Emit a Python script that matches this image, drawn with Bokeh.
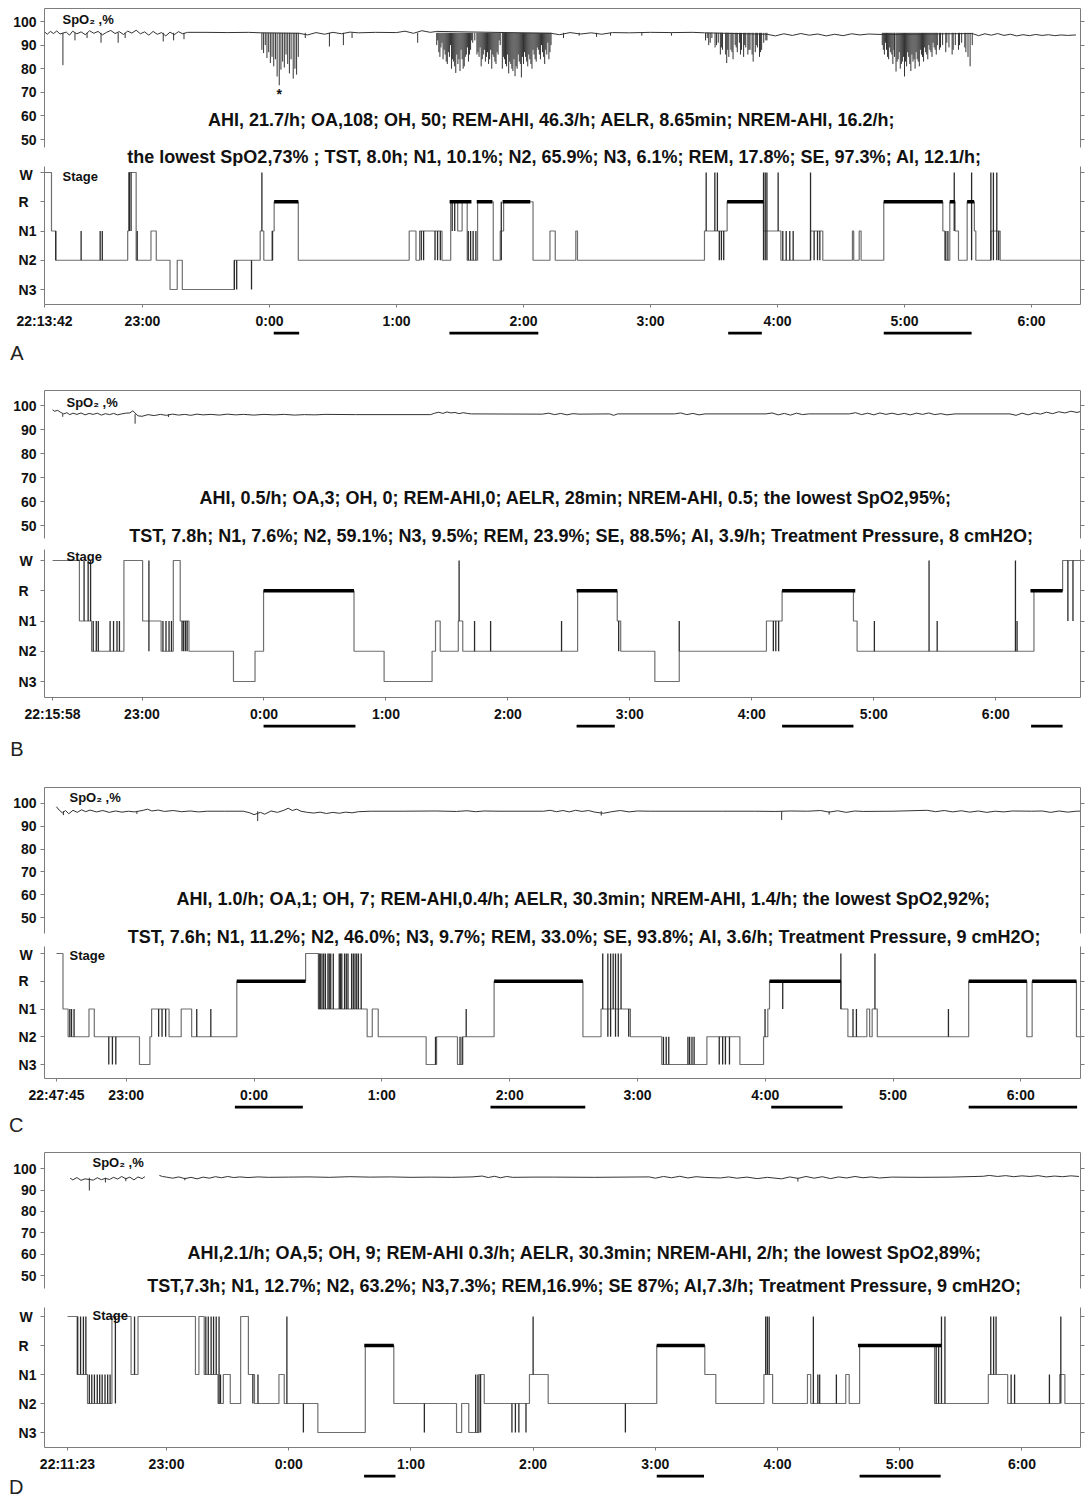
import math
from bokeh.plotting import figure
from bokeh.layouts import column
from bokeh.models import Range1d, LinearAxis, FixedTicker, Label
from bokeh.embed import file_html
from bokeh.resources import INLINE

# ---------------------------------------------------------------- axes / categories
LEVEL = {"N3": 0, "N2": 1, "N1": 2, "R": 3, "W": 4}
STAGE_TICKS = [0, 1, 2, 3, 4]
STAGE_TICK_LABELS = {0: "N3", 1: "N2", 2: "N1", 3: "R\u00a0\u00a0", 4: "W\u00a0"}
SPO2_TICKS = [50, 60, 70, 80, 90, 100]
HOUR_TICKS = [-1, 0, 1, 2, 3, 4, 5, 6]
HOUR_LABELS = ["23:00", "0:00", "1:00", "2:00", "3:00", "4:00", "5:00", "6:00"]

# ---------------------------------------------------------------- panel A
A_LINE1 = "AHI, 21.7/h; OA,108; OH, 50; REM-AHI, 46.3/h; AELR, 8.65min; NREM-AHI, 16.2/h;"
A_LINE2 = "the lowest SpO2,73% ; TST, 8.0h; N1, 10.1%; N2, 65.9%; N3, 6.1%; REM, 17.8%; SE, 97.3%; AI, 12.1/h;"
A_START_LABEL = "22:13:42"
A_SPO2 = [("22:13.7", 95.6), ("22:15", 94.6), ("22:16.5", 95.8), ("22:18", 94.9), ("22:19.5", 96.0),
          ("22:21", 94.7), ("22:24", 95.5), ("22:25.5", 94.2), ("22:27", 95.9), ("22:29", 94.8),
          ("22:31", 95.6), ("22:33", 94.4), ("22:35", 96.1), ("22:37", 95.0), ("22:39", 95.8),
          ("22:41", 94.3), ("22:43", 95.4), ("22:45", 96.2), ("22:47", 94.9), ("22:49", 95.7),
          ("22:51", 94.5), ("22:53", 95.9), ("22:55", 95.1), ("22:57", 96.3), ("22:59", 94.8),
          ("23:01", 95.6), ("23:03", 94.2), ("23:05", 95.8), ("23:07", 94.6), ("23:09", 95.3),
          ("23:11", 93.9), ("23:13", 95.5), ("23:15", 94.4), ("23:17", 95.7), ("23:19", 94.8),
          ("23:21.3", 95.4), ("23:30", 95.4), ("23:40", 95.3), ("23:50", 95.4), ("23:56", 95.2),
          ("0:14", 95.0), ("0:18", 94.3), ("0:22", 95.3), ("0:26", 94.6), ("0:30", 95.4),
          ("0:34", 94.8), ("0:38", 95.5), ("0:42", 95.2), ("0:50", 95.4), ("1:00", 95.3),
          ("1:04", 95.9), ("1:08", 95.0), ("1:12", 96.1), ("1:16", 95.4), ("1:19", 95.8),
          ("2:13", 95.0), ("2:17", 94.4), ("2:22", 95.3), ("2:27", 94.7), ("2:32", 95.2),
          ("2:37", 94.6), ("2:42", 95.3), ("2:50", 95.2), ("3:00", 95.4), ("3:10", 95.3),
          ("3:20", 95.4), ("3:25.5", 95.2), ("3:55", 94.6), ("3:59", 93.9), ("4:03", 94.8),
          ("4:07", 94.1), ("4:11", 94.9), ("4:15", 94.2), ("4:19", 94.7), ("4:23", 93.9),
          ("4:27", 94.6), ("4:31", 94.0), ("4:35", 94.8), ("4:39", 94.3), ("4:43", 94.7),
          ("4:49", 94.5), ("5:32", 94.9), ("5:35", 94.0), ("5:38", 94.8), ("5:41", 94.2),
          ("5:44", 94.9), ("5:47", 94.1), ("5:50", 94.6), ("5:53", 93.9), ("5:56", 94.4),
          ("5:59", 94.0), ("6:02", 94.5), ("6:05", 94.1), ("6:08", 94.4), ("6:11", 94.0),
          ("6:14", 94.3), ("6:17", 94.1), ("6:21", 94.3)]
A_DIP_TOP = 95.2
A_DIPS = [("22:22.4", 81.5), ("22:28.1", 92.0), ("22:33.8", 93.0), ("22:40.4", 91.0), ("22:48.5", 91.0),
          ("22:51.8", 93.0), ("23:09.8", 91.5), ("23:14.7", 92.0), ("23:19.6", 92.5),
          ("23:56.4", 88), ("23:57.2", 86.6), ("23:58", 90), ("23:58.8", 84.5), ("23:59.6", 87),
          ("0:00.4", 82.4), ("0:01.2", 85), ("0:02", 81), ("0:02.8", 84), ("0:03.6", 76.7),
          ("0:04.6", 73), ("0:05.4", 79.6), ("0:06.2", 83), ("0:07", 80.5), ("0:07.8", 86),
          ("0:08.6", 82), ("0:09.4", 78), ("0:10.2", 84), ("0:11.2", 75.8), ("0:12", 80),
          ("0:12.8", 77.5), ("0:13.6", 85),
          ("0:16.9", 93), ("0:28.3", 89.4), ("0:34.9", 90), ("0:39", 93), ("1:10", 91),
          ("1:19", 90), ("1:20", 87), ("1:21", 89), ("1:22", 84), ("1:23", 86), ("1:24", 82),
          ("1:25", 85), ("1:26", 80), ("1:27", 83), ("1:28", 78.2), ("1:29", 82), ("1:30", 79),
          ("1:31", 84), ("1:32", 81), ("1:33", 86), ("1:34", 83), ("1:35", 88), ("1:36", 91),
          ("1:37", 92), ("1:38", 86), ("1:39", 85), ("1:40", 81), ("1:41", 86), ("1:42", 83),
          ("1:43", 87), ("1:44", 84), ("1:45", 80), ("1:46", 85), ("1:47", 82), ("1:48", 86),
          ("1:49", 90), ("1:50", 80), ("1:51", 84), ("1:52", 81), ("1:53", 78), ("1:54", 82),
          ("1:55", 79), ("1:56", 76.8), ("1:57", 80), ("1:58", 83), ("1:59", 76.3), ("2:00", 82),
          ("2:01", 85), ("2:02", 81), ("2:03", 84), ("2:04", 80), ("2:05", 86), ("2:06", 83),
          ("2:07", 88), ("2:08", 84), ("2:09", 87), ("2:10", 82), ("2:11", 86), ("2:12", 84),
          ("2:13", 90),
          ("1:19.5", 92), ("1:20.5", 85), ("1:21.5", 91), ("1:22.5", 88), ("1:23.5", 83), ("1:24.5", 87),
          ("1:25.5", 90), ("1:26.5", 84), ("1:27.5", 81), ("1:28.5", 86), ("1:29.5", 84), ("1:30.5", 88),
          ("1:31.5", 80), ("1:32.5", 85), ("1:33.5", 89), ("1:34.5", 86), ("1:35.5", 92),
          ("1:38.5", 87), ("1:39.5", 89), ("1:40.5", 84), ("1:41.5", 88), ("1:42.5", 85),
          ("1:43.5", 82), ("1:44.5", 88), ("1:45.5", 86), ("1:46.5", 83), ("1:47.5", 87), ("1:48.5", 92),
          ("1:50.5", 85), ("1:51.5", 82), ("1:52.5", 86), ("1:53.5", 83), ("1:54.5", 80),
          ("1:55.5", 84), ("1:56.5", 81), ("1:57.5", 86), ("1:58.5", 82), ("1:59.5", 85), ("2:00.5", 87),
          ("2:01.5", 83), ("2:02.5", 86), ("2:03.5", 82), ("2:04.5", 88), ("2:05.5", 84), ("2:06.5", 89),
          ("2:07.5", 86), ("2:08.5", 90), ("2:09.5", 85), ("2:10.5", 88), ("2:11.5", 91), ("2:12.5", 87),
          ("2:18.9", 93), ("2:26.3", 94), ("2:34.5", 93.5), ("2:41.1", 94), ("2:55.9", 94), ("3:09.9", 94),
          ("3:26", 92), ("3:27.5", 90), ("3:29", 93), ("3:30.5", 89), ("3:32", 91), ("3:33", 86),
          ("3:34", 88), ("3:36", 82.4), ("3:37", 85), ("3:38", 88), ("3:39", 84), ("3:40", 90),
          ("3:41", 87), ("3:42", 91), ("3:43", 88), ("3:44", 85), ("3:45", 89), ("3:46", 86),
          ("3:47", 88), ("3:48.5", 83), ("3:49.5", 87), ("3:50.5", 89), ("3:51.5", 85),
          ("3:52.5", 88), ("3:53.5", 91), ("3:55", 92),
          ("3:26.8", 93), ("3:28.2", 91), ("3:31.2", 90), ("3:33.5", 89), ("3:35.5", 86), ("3:36.5", 88),
          ("3:38.5", 87), ("3:40.5", 89), ("3:42.5", 86), ("3:44.5", 90), ("3:46.5", 88), ("3:48", 86),
          ("3:50", 90), ("3:52", 87), ("3:54.5", 92),
          ("4:49.5", 90), ("4:50.5", 86), ("4:51.5", 88), ("4:52.5", 84), ("4:53.5", 87),
          ("4:54.5", 82), ("4:55.3", 85), ("4:56", 78.8), ("4:57", 84), ("4:58", 80),
          ("4:59", 83), ("5:00", 76.7), ("5:01", 81), ("5:02", 85), ("5:03", 79), ("5:04", 83),
          ("5:05", 80), ("5:06", 84), ("5:07", 81), ("5:08", 86), ("5:09", 83), ("5:10", 87),
          ("5:11", 84), ("5:12", 88), ("5:13", 85), ("5:14", 89), ("5:15", 86), ("5:16.5", 88),
          ("5:18", 90), ("5:19.5", 87), ("5:21", 89), ("5:22.5", 86), ("5:24", 90), ("5:25.5", 88),
          ("5:27", 91), ("5:28.5", 89), ("5:30", 85), ("5:31", 81), ("5:32", 90),
          ("4:50", 88), ("4:51", 91), ("4:52", 85), ("4:53", 89), ("4:54", 86), ("4:55", 88),
          ("4:56.5", 83), ("4:57.5", 87), ("4:58.5", 82), ("4:59.5", 85), ("5:00.5", 83), ("5:01.5", 87),
          ("5:02.5", 82), ("5:03.5", 86), ("5:04.5", 84), ("5:05.5", 87), ("5:06.5", 83), ("5:07.5", 88),
          ("5:08.5", 85), ("5:09.5", 89), ("5:10.5", 86), ("5:11.5", 90), ("5:12.5", 87), ("5:13.5", 91),
          ("5:14.5", 88), ("5:15.5", 90), ("5:17", 89), ("5:20", 91), ("5:23", 88), ("5:26", 90),
          ("5:29", 87)]
A_LOWEST = ("0:04.6", 73)
A_HYPNOGRAM = [("22:13.7", "W"), ("22:17", "N1"), ("22:19", "N2"), ("22:53", "N1"), ("22:53.5", "W"),
               ("22:57", "N2"), ("23:04", "N1"), ("23:06.5", "N2"), ("23:13", "N3"), ("23:16.4", "N2"),
               ("23:18.8", "N3"), ("23:43.4", "N2"), ("23:55.6", "N1"), ("23:57.3", "N2"), ("0:01.5", "N1"),
               ("0:02.2", "R"), ("0:13.6", "N2"), ("1:06", "N1"), ("1:09.2", "N2"), ("1:10.9", "N1"),
               ("1:21.5", "N2"), ("1:25.6", "R"), ("1:28.9", "N1"), ("1:31", "R"), ("1:33.4", "N2"),
               ("1:38.3", "R"), ("1:45.7", "N2"), ("1:49", "N1"), ("1:50.6", "R"), ("2:04.5", "N2"),
               ("2:12.5", "N1"), ("2:15", "N2"), ("2:24.7", "N1"), ("2:25.5", "N2"), ("3:25.5", "N1"),
               ("3:36.2", "R"), ("3:53.4", "N1"), ("4:01.6", "N2"), ("4:15.6", "N1"), ("4:21.4", "N2"),
               ("4:35.4", "N1"), ("4:36", "N2"), ("4:38.6", "N1"), ("4:39.5", "N2"), ("4:50.2", "R"),
               ("5:18.1", "N1"), ("5:19", "N2"), ("5:21.4", "R"), ("5:23.9", "N1"), ("5:25.5", "N2"),
               ("5:29.6", "R"), ("5:33", "N1"), ("5:33.7", "N2"), ("5:40.8", "N1"), ("5:45.2", "N2"),
               ("6:25", "N2")]
A_SPIKES = [("22:19", "N2", "N1"), ("22:31", "N2", "N1"), ("22:40", "N2", "N1"), ("22:41", "N2", "N1"),
            ("22:53.8", "N1", "W"), ("22:54.6", "N1", "W"), ("22:57.5", "N2", "N1"),
            ("23:43.4", "N3", "N2"), ("23:44.5", "N3", "N2"), ("23:51.5", "N3", "N2"),
            ("23:56.4", "N1", "W"), ("0:01.3", "N2", "N1"),
            ("1:11.7", "N2", "N1"), ("1:12.8", "N2", "N1"), ("1:18.2", "N2", "N1"), ("1:19.4", "N2", "N1"),
            ("1:20.7", "N2", "N1"), ("1:26.3", "N1", "R"), ("1:27.5", "N1", "R"), ("1:33.9", "N2", "N1"),
            ("1:35", "N2", "N1"), ("1:36.2", "N2", "N1"), ("1:37.5", "N2", "N1"), ("1:49.5", "N2", "R"),
            ("3:26.3", "N1", "W"), ("3:30.4", "N1", "W"), ("3:31.6", "N1", "W"), ("3:32.5", "N2", "N1"),
            ("3:33.5", "N2", "N1"), ("3:34.6", "N2", "N1"), ("3:53.4", "N2", "W"), ("3:54.2", "N2", "W"),
            ("3:55", "N2", "W"), ("4:00.3", "N1", "W"), ("4:02.5", "N2", "N1"), ("4:04.1", "N2", "N1"),
            ("4:05.8", "N2", "N1"), ("4:07.4", "N2", "N1"), ("4:15.6", "N2", "W"), ("4:17.3", "N2", "N1"),
            ("4:18.9", "N2", "N1"), ("4:20", "N2", "N1"), ("5:19.5", "N2", "N1"), ("5:20.5", "N2", "N1"),
            ("5:23.5", "N1", "W"), ("5:31.7", "N2", "W"), ("5:40.8", "N2", "W"), ("5:42", "N2", "W"),
            ("5:43.6", "N2", "W"), ("5:44.5", "N2", "N1")]
A_REM = [("0:02.2", "0:13.6"), ("1:25.1", "1:35.4"), ("1:37.9", "1:45.3"), ("1:50.1", "2:03.2"),
         ("3:36.2", "3:53.4"), ("4:50.2", "5:18.1"), ("5:21.4", "5:23.9"), ("5:29.6", "5:32.9")]
A_UNDERBARS = [("0:02", "0:14"), ("1:25", "2:07"), ("3:36.7", "3:52.6"), ("4:50.2", "5:31.7")]

# ---------------------------------------------------------------- panel B
B_LINE1 = "AHI, 0.5/h; OA,3; OH, 0; REM-AHI,0; AELR, 28min; NREM-AHI, 0.5; the lowest SpO2,95%;"
B_LINE2 = "TST, 7.8h; N1, 7.6%; N2, 59.1%; N3, 9.5%; REM, 23.9%; SE, 88.5%; AI, 3.9/h; Treatment Pressure, 8 cmH2O;"
B_START_LABEL = "22:15:58"
B_SPO2 = [("22:16", 98.2), ("22:17", 97.6), ("22:18.5", 98.0), ("22:20", 97.1), ("22:21.5", 96.5),
          ("22:23", 97.0), ("22:24.5", 96.2), ("22:26", 96.8), ("22:28", 96.3), ("22:30", 96.9),
          ("22:32", 96.1), ("22:34", 96.7), ("22:36", 96.3), ("22:38", 96.8), ("22:40", 96.0),
          ("22:42", 96.6), ("22:44", 96.2), ("22:46", 96.7), ("22:48", 96.1), ("22:50", 96.5),
          ("22:52", 96.8), ("22:54", 96.9), ("22:55.5", 97.8), ("22:58", 95.7), ("23:00", 95.5),
          ("23:03", 96.2), ("23:06", 95.8), ("23:09", 96.3), ("23:12", 95.9), ("23:15", 96.4),
          ("23:18", 96.0), ("23:21", 96.3), ("23:24", 95.9), ("23:27", 96.4), ("23:30", 96.1),
          ("23:34", 96.3), ("23:38", 96.0), ("23:42", 96.4), ("23:46", 96.1), ("23:50", 96.3),
          ("23:55", 96.0), ("0:00", 96.3), ("0:05", 96.1), ("0:10", 96.3), ("0:15", 96.0),
          ("0:20", 96.2), ("0:25", 96.1), ("0:30", 96.3), ("0:45", 96.2), ("1:22", 96.2),
          ("1:24", 96.8), ("1:26", 97.2), ("1:28", 96.7), ("1:30", 97.3), ("1:32", 96.9),
          ("1:34", 97.1), ("1:36", 96.6), ("1:38", 97.0), ("1:40", 96.7), ("1:42", 96.5),
          ("2:17", 96.4), ("2:20", 96.8), ("2:23", 96.2), ("2:26", 96.7), ("2:29", 96.1),
          ("2:32", 96.6), ("2:35", 96.4), ("2:50", 96.5), ("2:52", 95.9), ("2:54", 96.5),
          ("3:22", 96.5), ("3:25", 96.9), ("3:28", 96.2), ("3:31", 96.7), ("3:34", 96.1),
          ("3:37", 96.5), ("4:07", 96.5), ("4:10", 96.9), ("4:13", 96.1), ("4:16", 96.7),
          ("4:19", 96.0), ("4:22", 96.8), ("4:25", 96.2), ("4:28", 96.5), ("4:48", 96.5),
          ("4:51", 97.0), ("4:54", 96.2), ("4:57", 96.8), ("5:00", 96.1), ("5:03", 96.9),
          ("5:06", 96.3), ("5:09", 96.8), ("5:12", 96.2), ("5:15", 96.7), ("5:18", 96.1),
          ("5:21", 96.8), ("5:24", 96.3), ("5:27", 96.9), ("5:30", 96.2), ("5:33", 96.6),
          ("5:36", 96.1), ("5:40", 96.5), ("6:07", 96.5), ("6:10", 95.9), ("6:13", 96.8),
          ("6:16", 96.1), ("6:19", 96.9), ("6:22", 96.4), ("6:25", 97.2), ("6:28", 96.6),
          ("6:31", 97.4), ("6:34", 96.9), ("6:37", 97.6), ("6:40", 97.1), ("6:43", 97.8)]
B_DIP_TOP = 96.4
B_DIPS = [("22:56.6", 92.4), ("22:21", 95.3), ("23:13", 95.2)]
B_HYPNOGRAM = [("22:16", "W"), ("22:29.2", "N1"), ("22:35.2", "N2"), ("22:51.1", "W"), ("23:00.3", "N1"),
               ("23:09.4", "N2"), ("23:15.4", "W"), ("23:18.8", "N1"), ("23:23.1", "N2"), ("23:45", "N3"),
               ("23:55.6", "N2"), ("23:59.8", "R"), ("0:44.3", "N2"), ("0:59.1", "N3"), ("1:22.7", "N2"),
               ("1:24.4", "N1"), ("1:26.7", "N2"), ("1:35.6", "N1"), ("1:37.8", "N2"), ("2:34.3", "R"),
               ("2:53.8", "N1"), ("2:55.5", "N2"), ("3:12.3", "N3"), ("3:24.3", "N2"), ("4:07.2", "N1"),
               ("4:14.9", "R"), ("4:50", "N1"), ("4:51.8", "N2"), ("6:18.8", "R"), ("6:32.9", "W"),
               ("6:47", "W")]
B_SPIKES = [("22:31.5", "N1", "W"), ("22:33.5", "N1", "W"), ("22:34.7", "N1", "W"), ("22:36", "N2", "N1"),
            ("22:37.5", "N2", "N1"), ("22:38.5", "N2", "N1"), ("22:44.3", "N2", "N1"), ("22:46", "N2", "N1"),
            ("22:47.7", "N2", "N1"), ("22:48.9", "N2", "N1"), ("23:03.4", "N2", "W"), ("23:10.3", "N2", "N1"),
            ("23:11.8", "N2", "N1"), ("23:13.3", "N2", "N1"), ("23:14.5", "N2", "N1"), ("23:19.7", "N2", "N1"),
            ("23:20.5", "N2", "N1"), ("23:21.4", "N2", "N1"), ("23:22.2", "N2", "N1"), ("1:36", "N1", "W"),
            ("1:43.6", "N2", "N1"), ("1:51.5", "N2", "N1"), ("2:26.4", "N2", "N1"), ("2:54.5", "N2", "N1"),
            ("3:24.3", "N2", "N1"), ("4:10.6", "N2", "N1"), ("4:11.8", "N2", "N1"), ("4:13.2", "N2", "N1"),
            ("5:00.3", "N2", "N1"), ("5:27.2", "N2", "W"), ("5:31.2", "N2", "N1"), ("6:09.7", "N2", "W"),
            ("6:10.5", "N2", "N1"), ("6:35.5", "N1", "W"), ("6:38", "N1", "W")]
B_REM = [("23:59.8", "0:44.3"), ("2:33.8", "2:53.8"), ("4:14.9", "4:50.9"), ("6:17.1", "6:32.9")]
B_UNDERBARS = [("23:59.8", "0:45"), ("2:33.8", "2:52.6"), ("4:14.9", "4:50"), ("6:17.4", "6:32.9")]

# ---------------------------------------------------------------- panel C
C_LINE1 = "AHI, 1.0/h; OA,1; OH, 7; REM-AHI,0.4/h; AELR, 30.3min; NREM-AHI, 1.4/h; the lowest SpO2,92%;"
C_LINE2 = "TST, 7.6h; N1, 11.2%; N2, 46.0%; N3, 9.7%; REM, 33.0%; SE, 93.8%; AI, 3.6/h; Treatment Pressure, 9 cmH2O;"
C_START_LABEL = "22:47:45"
C_SPO2 = [("22:27.2", 98.5), ("22:28.5", 97.0), ("22:30", 95.8), ("22:31.5", 96.8), ("22:33", 95.4),
          ("22:35", 96.9), ("22:37", 96.0), ("22:39", 97.1), ("22:41", 96.3), ("22:43", 97.0),
          ("22:46", 96.2), ("22:49", 96.8), ("22:52", 96.0), ("22:55", 96.6), ("22:58", 96.1),
          ("23:01", 96.5), ("23:04", 96.2), ("23:08", 96.9), ("23:10", 97.4), ("23:12", 96.6),
          ("23:15", 97.0), ("23:18", 96.4), ("23:22", 96.8), ("23:26", 96.3), ("23:30", 96.6),
          ("23:34", 96.2), ("23:38", 96.5), ("23:46", 96.5), ("23:55", 96.5), ("23:58", 95.8),
          ("0:00", 95.0), ("0:03", 96.0), ("0:05", 95.2), ("0:08", 96.6), ("0:11", 96.0),
          ("0:14", 96.9), ("0:16", 97.8), ("0:18", 96.8), ("0:20", 97.4), ("0:22", 96.5),
          ("0:25", 96.0), ("0:28", 95.7), ("0:31", 96.1), ("0:34", 95.5), ("0:37", 96.0),
          ("0:40", 95.6), ("0:43", 96.1), ("0:46", 95.8), ("0:49", 96.3), ("0:55", 96.5),
          ("1:10", 96.5), ("1:25", 96.6), ("1:35", 96.4), ("1:40", 96.7), ("1:44", 96.3),
          ("1:48", 96.6), ("1:55", 96.5), ("2:16", 96.5), ("2:19", 96.9), ("2:22", 96.3),
          ("2:25", 96.8), ("2:28", 96.2), ("2:31", 96.9), ("2:34", 96.4), ("2:37", 96.8),
          ("2:40", 96.1), ("2:44", 95.6), ("2:48", 96.3), ("2:52", 96.8), ("2:56", 96.2),
          ("3:00", 96.6), ("3:06", 96.5), ("3:20", 96.5), ("3:40", 96.5), ("3:55", 96.5),
          ("4:05", 96.4), ("4:12", 96.6), ("4:20", 96.5), ("4:26", 96.8), ("4:30", 96.1),
          ("4:34", 96.7), ("4:38", 96.0), ("4:42", 96.6), ("4:46", 96.4), ("5:00", 96.5),
          ("5:16", 96.9), ("5:20", 96.3), ("5:24", 96.8), ("5:28", 96.2), ("5:32", 96.7),
          ("5:36", 96.1), ("5:40", 96.6), ("5:44", 96.0), ("5:48", 96.5), ("5:52", 96.2),
          ("5:56", 96.6), ("6:05", 96.5), ("6:10", 96.6), ("6:14", 96.0), ("6:18", 96.6),
          ("6:22", 96.1), ("6:26", 96.5), ("6:30", 96.6)]
C_DIP_TOP = 96.5
C_DIPS = [("0:01.7", 92.2), ("4:07.7", 92.7), ("22:30.5", 94.8), ("23:05", 95.3), ("2:43", 94.6), ("4:30", 95.0)]
C_HYPNOGRAM = [("22:27.2", "W"), ("22:30.3", "N1"), ("22:32.7", "N2"), ("22:42.5", "N1"), ("22:45", "N2"),
               ("23:06.2", "N3"), ("23:11.1", "N2"), ("23:11.9", "N1"), ("23:20.1", "N2"), ("23:25.8", "N1"),
               ("23:30.7", "N2"), ("23:51.9", "R"), ("0:24.2", "W"), ("0:30.2", "N1"), ("0:53.1", "N2"),
               ("0:55.5", "N1"), ("0:58.3", "N2"), ("1:20.8", "N3"), ("1:25.7", "N2"), ("1:35.5", "N3"),
               ("1:38", "N2"), ("1:52.7", "R"), ("2:34.4", "N2"), ("2:42.9", "N1"), ("2:56.7", "N2"),
               ("3:11.4", "N3"), ("3:32.6", "N2"), ("3:48.1", "N3"), ("3:59.2", "N2"), ("4:01.2", "N1"),
               ("4:02", "R"), ("4:35.5", "N1"), ("4:38.8", "N2"), ("4:47.7", "N1"), ("4:49", "N2"),
               ("4:50.2", "N1"), ("4:52.6", "N2"), ("5:35.5", "R"), ("6:02.8", "N2"), ("6:05.3", "R"),
               ("6:26.1", "N2"), ("6:28.1", "N1"), ("6:32", "N1")]
C_SPIKES = [("22:33.5", "N2", "N1"), ("22:34.3", "N2", "N1"), ("22:35.5", "N2", "N1"), ("22:51.8", "N3", "N2"),
            ("22:53.5", "N3", "N2"), ("22:55.1", "N3", "N2"), ("23:15.2", "N2", "N1"), ("23:16.8", "N2", "N1"),
            ("23:18.5", "N2", "N1"), ("23:33.1", "N2", "N1"), ("23:39.7", "N2", "N1"),
            ("0:30.6", "N1", "W"), ("0:31.1", "N1", "W"), ("0:31.9", "N1", "W"), ("0:32.7", "N1", "W"),
            ("0:33.5", "N1", "W"), ("0:34.7", "N1", "W"), ("0:35.3", "N1", "W"), ("0:36", "N1", "W"),
            ("0:37.2", "N1", "W"), ("0:40", "N1", "W"), ("0:40.6", "N1", "W"), ("0:41.2", "N1", "W"),
            ("0:42.5", "N1", "W"), ("0:43.3", "N1", "W"), ("0:44.1", "N1", "W"), ("0:45.8", "N1", "W"),
            ("0:46.6", "N1", "W"), ("0:47.4", "N1", "W"), ("0:48.2", "N1", "W"), ("0:49", "N1", "W"),
            ("0:50.3", "N1", "W"), ("1:25.2", "N3", "N2"), ("1:36.7", "N3", "N2"), ("1:37.7", "N3", "N2"),
            ("1:39.6", "N2", "N1"), ("2:43.7", "N1", "W"), ("2:46.1", "N2", "W"), ("2:47.4", "N2", "W"),
            ("2:48.6", "N1", "W"), ("2:49.7", "N2", "W"), ("2:51", "N2", "W"), ("2:52.3", "N1", "W"),
            ("2:55.9", "N2", "N1"), ("3:12.2", "N3", "N2"), ("3:13.5", "N3", "N2"), ("3:14.7", "N3", "N2"),
            ("3:23.7", "N3", "N2"), ("3:24.5", "N3", "N2"), ("3:25.6", "N3", "N2"), ("3:26.6", "N3", "N2"),
            ("3:38.4", "N3", "N2"), ("3:40", "N3", "N2"), ("3:41.3", "N3", "N2"), ("3:43.2", "N3", "N2"),
            ("3:59.9", "N2", "N1"), ("4:08.2", "N1", "R"), ("4:35.5", "N1", "W"), ("4:41.2", "N2", "N1"),
            ("4:42.8", "N2", "N1"), ("4:51.5", "N1", "W"), ("5:26", "N2", "N1")]
C_REM = [("23:51.9", "0:24.2"), ("1:52.7", "2:34.4"), ("4:02", "4:35.5"), ("5:35.5", "6:02.8"), ("6:05.3", "6:26.1")]
C_UNDERBARS = [("23:51", "0:22.9"), ("1:51", "2:35.5"), ("4:02.8", "4:36.3"), ("5:35.5", "6:26.4")]

# ---------------------------------------------------------------- panel D
D_LINE1 = "AHI,2.1/h; OA,5; OH, 9; REM-AHI 0.3/h; AELR, 30.3min; NREM-AHI, 2/h; the lowest SpO2,89%;"
D_LINE2 = "TST,7.3h; N1, 12.7%; N2, 63.2%; N3,7.3%; REM,16.9%; SE 87%; AI,7.3/h; Treatment Pressure, 9 cmH2O;"
D_START_LABEL = "22:11:23"
D_SPO2 = [("22:12.7", 95.6), ("22:14", 94.8), ("22:16", 95.9), ("22:18", 94.6), ("22:20", 95.3),
          ("22:24", 94.7), ("22:26", 95.8), ("22:28", 94.9), ("22:30", 95.5), ("22:32", 95.0),
          ("22:34", 96.0), ("22:36", 95.2), ("22:38", 96.4), ("22:40", 95.3), ("22:42", 96.1),
          ("22:44", 94.8), ("22:46", 96.2), ("22:48", 95.4), ("22:49.4", 96.3), ("22:53", None),
          ("22:56.5", 96.9), ("22:58", 96.4), ("23:00", 96.1), ("23:03", 95.6), ("23:06", 96.2),
          ("23:09", 95.4), ("23:12", 96.0), ("23:15", 95.3), ("23:18", 96.1), ("23:21", 95.6),
          ("23:24", 96.3), ("23:27", 95.8), ("23:30", 96.4), ("23:33", 95.9), ("23:36", 96.2),
          ("23:40", 95.9), ("23:45", 96.2), ("23:50", 96.0), ("0:00", 96.1), ("0:10", 96.2),
          ("0:20", 96.0), ("0:30", 96.3), ("0:40", 96.1), ("0:50", 96.2), ("1:00", 96.0),
          ("1:10", 96.1), ("1:20", 96.0), ("1:30", 96.2), ("1:35", 96.6), ("1:38", 95.9),
          ("1:41", 96.5), ("1:44", 95.8), ("1:47", 96.4), ("1:50", 96.0), ("2:00", 96.1),
          ("2:10", 96.1), ("2:30", 96.0), ("2:57", 96.2), ("3:00", 95.6), ("3:04", 96.4),
          ("3:08", 95.8), ("3:12", 96.5), ("3:16", 95.7), ("3:20", 96.3), ("3:24", 96.0),
          ("3:32", 95.7), ("3:36", 96.2), ("3:40", 95.6), ("3:45", 96.1), ("3:50", 95.4),
          ("3:55", 96.0), ("4:02", 95.3), ("4:06", 96.2), ("4:10", 95.5), ("4:14", 96.4),
          ("4:18", 95.6), ("4:22", 96.3), ("4:26", 95.4), ("4:30", 96.2), ("4:34", 95.7),
          ("4:38", 96.4), ("4:42", 95.8), ("4:46", 96.2), ("4:50", 95.7), ("4:56", 96.1),
          ("5:10", 96.0), ("5:25", 96.1), ("5:41", 96.5), ("5:44", 96.9), ("5:48", 96.4),
          ("5:52", 96.8), ("5:56", 96.3), ("6:00", 96.7), ("6:04", 96.4), ("6:08", 96.8),
          ("6:12", 96.2), ("6:16", 96.6), ("6:20", 96.3), ("6:24", 96.7), ("6:28", 96.4)]
D_DIP_TOP = 95.8
D_DIPS = [("22:22.1", 89.8), ("22:30", 93.6), ("22:40", 94.2), ("23:09", 94.6), ("4:10", 94.0)]
D_HYPNOGRAM = [("22:11.4", "W"), ("22:16.1", "N1"), ("22:21.2", "N2"), ("22:33.2", "W"), ("22:42.6", "N1"),
               ("22:46", "W"), ("23:14.2", "N1"), ("23:15.9", "W"), ("23:18.5", "N1"), ("23:25.3", "N2"),
               ("23:27.9", "N1"), ("23:31.3", "N2"), ("23:36.4", "W"), ("23:40.2", "N1"), ("23:43.2", "N2"),
               ("23:55.2", "N1"), ("23:57.8", "N2"), ("0:14.3", "N3"), ("0:37.6", "R"), ("0:51.6", "N2"),
               ("1:22.4", "N3"), ("1:24.9", "N2"), ("1:28.4", "N3"), ("1:33.5", "N1"), ("1:36", "N2"),
               ("1:58.2", "N1"), ("2:07.4", "N2"), ("3:00.7", "R"), ("3:24.3", "N1"), ("3:29.7", "N2"),
               ("3:53.3", "N1"), ("3:57.6", "N2"), ("4:14.7", "N1"), ("4:16.3", "N2"), ("4:33.5", "N1"),
               ("4:35.2", "N2"), ("4:40.3", "R"), ("5:17.1", "N2"), ("5:43.5", "N1"), ("5:53", "N2"),
               ("6:18.6", "N1"), ("6:21.1", "N2"), ("6:30", "N2")]
D_SPIKES = [("22:16.4", "N1", "W"), ("22:17.8", "N1", "W"), ("22:19.2", "N1", "W"), ("22:20.4", "N1", "W"),
            ("22:22.1", "N2", "N1"), ("22:23.3", "N2", "N1"), ("22:24.6", "N2", "N1"), ("22:26", "N2", "N1"),
            ("22:27.2", "N2", "N1"), ("22:28.4", "N2", "N1"), ("22:29.8", "N2", "N1"), ("22:31.1", "N2", "N1"),
            ("22:32.3", "N2", "N1"), ("22:34.9", "N2", "W"), ("22:44.3", "N1", "W"),
            ("23:19.3", "N1", "W"), ("23:20.5", "N1", "W"), ("23:21.9", "N1", "W"), ("23:23.1", "N1", "W"),
            ("23:24.4", "N1", "W"), ("23:25.8", "N2", "W"), ("23:26.5", "N2", "N1"), ("23:42.4", "N2", "N1"),
            ("23:44.9", "N2", "N1"), ("23:59.1", "N2", "W"), ("0:07.2", "N3", "N2"), ("1:06.6", "N3", "N2"),
            ("1:31.8", "N3", "N1"), ("1:32.9", "N3", "N1"), ("1:34.2", "N3", "N1"), ("1:49.6", "N3", "N2"),
            ("1:51.3", "N3", "N2"), ("1:53", "N3", "N2"), ("1:56.5", "N3", "N2"), ("2:00", "N1", "W"),
            ("2:45.3", "N3", "N2"), ("3:54.2", "N1", "W"), ("3:55", "N1", "W"), ("3:55.9", "N1", "W"),
            ("4:17.6", "N2", "W"), ("4:19.8", "N2", "N1"), ("4:20.7", "N2", "N1"), ("4:28.9", "N2", "N1"),
            ("5:17.9", "N2", "R"), ("5:19.1", "N2", "R"), ("5:20.5", "N2", "W"), ("5:22.2", "N2", "W"),
            ("5:44.7", "N1", "W"), ("5:46.1", "N1", "W"), ("5:47.3", "N1", "W"), ("5:54.7", "N2", "N1"),
            ("5:56.4", "N2", "N1"), ("6:13.5", "N2", "N1"), ("6:19.1", "N2", "W")]
D_REM = [("0:37.1", "0:51.6"), ("3:00.7", "3:24.3"), ("4:39.5", "5:20.5")]
D_UNDERBARS = [("0:37", "0:52.4"), ("3:00.7", "3:23.9"), ("4:40.3", "5:20.1")]


# ---------------------------------------------------------------- helpers
def hrs(s):
    p = s.split(":")
    h = int(p[0])
    m = float(p[1])
    sec = float(p[2]) if len(p) > 2 else 0.0
    if h >= 12:
        h -= 24
    return h + m / 60.0 + sec / 3600.0


FONT = "Liberation Sans"
AXC = "#7c7c7c"
TXT = "#111111"

DATA = {
    "A": dict(line1=A_LINE1, line2=A_LINE2, start=A_START_LABEL, spo2=A_SPO2, dip_top=A_DIP_TOP, dips=A_DIPS,
              hyp=A_HYPNOGRAM, spikes=A_SPIKES, rem=A_REM, under=A_UNDERBARS, star=A_LOWEST),
    "B": dict(line1=B_LINE1, line2=B_LINE2, start=B_START_LABEL, spo2=B_SPO2, dip_top=B_DIP_TOP, dips=B_DIPS,
              hyp=B_HYPNOGRAM, spikes=B_SPIKES, rem=B_REM, under=B_UNDERBARS, star=None),
    "C": dict(line1=C_LINE1, line2=C_LINE2, start=C_START_LABEL, spo2=C_SPO2, dip_top=C_DIP_TOP, dips=C_DIPS,
              hyp=C_HYPNOGRAM, spikes=C_SPIKES, rem=C_REM, under=C_UNDERBARS, star=None),
    "D": dict(line1=D_LINE1, line2=D_LINE2, start=D_START_LABEL, spo2=D_SPO2, dip_top=D_DIP_TOP, dips=D_DIPS,
              hyp=D_HYPNOGRAM, spikes=D_SPIKES, rem=D_REM, under=D_UNDERBARS, star=None),
}

# Common frame geometry (page pixels; the page has no body margin)
FRAME_L = 44
FRAME_R = 1080
FRAME_W = FRAME_R - FRAME_L
BORDER_R = 6
AXIS_BAND = 27
LETTER_RIGHT = 23

# per-panel pixel geometry measured on the reference (fl = pixel of start time, pxh = pixels per hour)
LAYOUT = [
    dict(key="A", top=8, sbot=166, stbot=304, y100=21.0, ppu=2.36, axlow=147, pyW=172, d=29.25,
         fl=44.0, pxh=127.0, t0="22:13:42", l1=(551, 119), l2=(554, 156), slab=(62, 19), glab=(62, 176),
         letter=21),
    dict(key="B", top=390, sbot=549, stbot=697, y100=405.0, ppu=2.4, axlow=538, pyW=560, d=30.25,
         fl=52.0, pxh=121.96, t0="22:15:58", l1=(575, 497), l2=(581, 535), slab=(66, 402), glab=(66, 556),
         letter=24),
    dict(key="C", top=787, sbot=946, stbot=1078, y100=802.7, ppu=2.29, axlow=933, pyW=953, d=27.75,
         fl=56.0, pxh=127.8, t0="22:27:15", l1=(583, 898), l2=(584, 936), slab=(69, 797), glab=(69, 955),
         letter=19),
    dict(key="D", top=1152, sbot=1307, stbot=1447, y100=1168.3, ppu=2.134, axlow=1288, pyW=1316, d=29.0,
         fl=67.0, pxh=122.2, t0="22:11:23", l1=(584, 1252), l2=(584, 1285), slab=(92, 1162), glab=(92, 1315),
         letter=12),
]
PAGE_BOTTOM = 1499


def style_axis(ax, ticks, overrides=None, standoff=4, tick_out=4, bounds=None, size="14px", labels=True):
    ax.ticker = FixedTicker(ticks=ticks)
    if overrides:
        ax.major_label_overrides = overrides
    if bounds is not None:
        ax.bounds = bounds
    ax.axis_line_color = AXC
    ax.major_tick_line_color = AXC if tick_out > 0 else None
    ax.minor_tick_line_color = None
    ax.major_tick_out = tick_out
    ax.major_tick_in = 0
    ax.major_label_text_font = FONT
    ax.major_label_text_font_style = "bold"
    if labels:
        ax.major_label_standoff = standoff
        ax.major_label_text_font_size = size
        ax.major_label_text_color = TXT
    else:
        ax.major_label_standoff = 0
        ax.major_label_text_font_size = "1px"
        ax.major_label_text_color = None


def make_panel(P, D, next_top, first):
    pxh = P["pxh"]
    t0 = round(hrs(P["t0"]), 4)
    ts0 = t0 + (FRAME_L - P["fl"]) / pxh
    ts1 = ts0 + FRAME_W / pxh
    tx = lambda px: t0 + (px - P["fl"]) / pxh
    sp = lambda py: 100.0 - (py - P["y100"]) / P["ppu"]
    st = lambda py: 4.0 - (py - P["pyW"]) / P["d"]
    xr = Range1d(ts0, ts1)

    # ---------------- SpO2 trace
    s_h = P["sbot"] - P["top"]
    p1 = figure(frame_width=FRAME_W, frame_height=s_h, x_range=xr,
                y_range=Range1d(sp(P["sbot"]), sp(P["top"])),
                x_axis_location=None, output_backend="svg", toolbar_location=None,
                min_border_left=FRAME_L, min_border_right=BORDER_R,
                min_border_top=P["top"] if first else 0, min_border_bottom=0)
    p1.outline_line_color = None
    p1.grid.visible = False
    style_axis(p1.yaxis[0], SPO2_TICKS, bounds=(sp(P["axlow"]), sp(P["top"])))
    ra = LinearAxis()
    style_axis(ra, SPO2_TICKS, bounds=(sp(P["axlow"]), sp(P["top"])), labels=False)
    p1.add_layout(ra, "right")
    ta = LinearAxis()
    style_axis(ta, [], tick_out=0, labels=False)
    p1.add_layout(ta, "above")

    ts = [hrs(t) for t, v in D["spo2"]]
    vs = [float("nan") if v is None else v for t, v in D["spo2"]]
    p1.line(ts, vs, line_color="#333333", line_width=1)
    dt = [hrs(t) for t, v in D["dips"]]
    dv = [v for t, v in D["dips"]]
    p1.segment(x0=dt, y0=[D["dip_top"]] * len(dt), x1=dt, y1=dv, line_color="#333333", line_width=1)

    p1.add_layout(Label(x=tx(P["slab"][0]), y=sp(P["slab"][1]), text="SpO\u2082 ,%",
                        text_align="left", text_baseline="middle", text_font=FONT,
                        text_font_size="13px", text_font_style="bold", text_color=TXT))
    for (cx, cy), txt in ((P["l1"], D["line1"]), (P["l2"], D["line2"])):
        p1.add_layout(Label(x=tx(cx), y=sp(cy), text=txt, text_align="center", text_baseline="middle",
                            text_font=FONT, text_font_size="18px", text_font_style="bold",
                            text_color=TXT, background_fill_color="white"))
    if D["star"] is not None:
        p1.add_layout(Label(x=hrs(D["star"][0]), y=D["star"][1] - 3.6, text="*", text_align="center",
                            text_baseline="middle", text_font=FONT, text_font_size="14px",
                            text_font_style="bold", text_color=TXT))

    # ---------------- hypnogram
    g_h = P["stbot"] - P["sbot"]
    p2 = figure(frame_width=FRAME_W, frame_height=g_h, x_range=xr,
                y_range=Range1d(st(P["stbot"]), st(P["sbot"])),
                output_backend="svg", toolbar_location=None,
                min_border_left=FRAME_L, min_border_right=BORDER_R, min_border_top=0,
                min_border_bottom=AXIS_BAND)
    p2.outline_line_color = None
    p2.grid.visible = False
    style_axis(p2.yaxis[0], STAGE_TICKS, overrides=STAGE_TICK_LABELS)
    ra2 = LinearAxis()
    style_axis(ra2, STAGE_TICKS, labels=False)
    p2.add_layout(ra2, "right")
    xt = [t0] + HOUR_TICKS
    xo = {t0: D["start"]}
    for h, lab in zip(HOUR_TICKS, HOUR_LABELS):
        xo[h] = lab
    style_axis(p2.xaxis[0], xt, overrides=xo, standoff=5, tick_out=3)

    hx = [hrs(t) for t, s in D["hyp"]]
    hy = [LEVEL[s] for t, s in D["hyp"]]
    p2.step(hx, hy, mode="after", line_color="#6f6f6f", line_width=1.2)
    kx = [hrs(t) for t, a, b in D["spikes"]]
    p2.segment(x0=kx, y0=[LEVEL[a] for t, a, b in D["spikes"]], x1=kx,
               y1=[LEVEL[b] for t, a, b in D["spikes"]], line_color="#2a2a2a", line_width=1.3)
    p2.segment(x0=[hrs(a) for a, b in D["rem"]], y0=[LEVEL["R"]] * len(D["rem"]),
               x1=[hrs(b) for a, b in D["rem"]], y1=[LEVEL["R"]] * len(D["rem"]),
               line_color="black", line_width=3.5)
    p2.add_layout(Label(x=tx(P["glab"][0]), y=st(P["glab"][1]), text="Stage", text_align="left",
                        text_baseline="middle", text_font=FONT, text_font_size="13px",
                        text_font_style="bold", text_color=TXT))

    # ---------------- footer: REM underbars + panel letter (letter drawn as the footer's axis label)
    f_h = next_top - (P["stbot"] + AXIS_BAND)
    pf = figure(frame_width=FRAME_W, frame_height=f_h, x_range=xr, y_range=Range1d(0, f_h),
                x_axis_location=None, output_backend="svg", toolbar_location=None,
                min_border_left=FRAME_L, min_border_right=BORDER_R, min_border_top=0, min_border_bottom=0)
    pf.outline_line_color = None
    pf.grid.visible = False
    ly = f_h - P["letter"]
    la = pf.yaxis[0]
    la.ticker = FixedTicker(ticks=[ly])
    la.major_label_overrides = {ly: P["key"]}
    la.axis_line_color = None
    la.major_tick_line_color = None
    la.minor_tick_line_color = None
    la.major_tick_out = 0
    la.major_tick_in = 0
    la.major_label_standoff = FRAME_L - LETTER_RIGHT
    la.major_label_text_font = FONT
    la.major_label_text_font_size = "20px"
    la.major_label_text_font_style = "normal"
    la.major_label_text_color = "#222222"
    ub = D["under"]
    pf.segment(x0=[hrs(a) for a, b in ub], y0=[f_h - 1.6] * len(ub), x1=[hrs(b) for a, b in ub],
               y1=[f_h - 1.6] * len(ub), line_color="black", line_width=3)
    return [p1, p2, pf]


children = []
for i, P in enumerate(LAYOUT):
    nxt = LAYOUT[i + 1]["top"] if i + 1 < len(LAYOUT) else PAGE_BOTTOM
    children += make_panel(P, DATA[P["key"]], nxt, i == 0)

layout = column(children, spacing=0)
open("out.html", "w").write(file_html(layout, INLINE))
